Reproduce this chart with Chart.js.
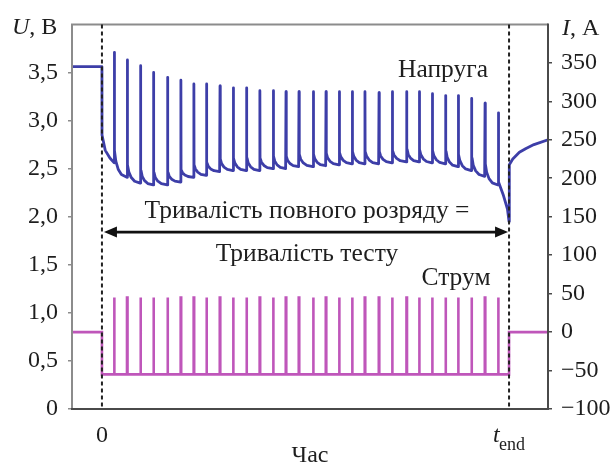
<!DOCTYPE html>
<html>
<head>
<meta charset="utf-8">
<script src="https://cdn.jsdelivr.net/npm/chart.js@4"></script>
<style>
  html, body { margin: 0; padding: 0; background: #fff; }
  #wrap { width: 614px; height: 466px; position: relative; }
</style>
</head>
<body>
<div id="wrap"><canvas id="c"></canvas></div>
<script>
// ---- data (time in arbitrary units: 0 = test start, T_END = end of test) ----
const T_MIN = -2.26, T_MAX = 33.66, T_END = 30.72;
const spikeTimes = [0.93, 1.91, 2.92, 3.90, 4.96, 5.96, 6.94, 7.90, 8.91, 9.91,
                    10.92, 11.92, 12.93, 13.89, 14.87, 15.95, 16.91, 17.91, 18.89, 19.85,
                    20.91, 21.91, 23.00, 23.95, 24.93, 25.94, 26.89, 27.90, 28.91, 29.91];
const uPeak   = [3.71, 3.63, 3.57, 3.50, 3.45, 3.42, 3.38, 3.38, 3.36, 3.34,
                 3.34, 3.31, 3.31, 3.30, 3.30, 3.30, 3.30, 3.30, 3.30, 3.30,
                 3.29, 3.30, 3.30, 3.30, 3.28, 3.26, 3.26, 3.23, 3.18, 3.08];
const uTrough = [2.56, 2.41, 2.35, 2.33, 2.33, 2.36, 2.41, 2.43, 2.47, 2.48,
                 2.48, 2.48, 2.50, 2.50, 2.52, 2.52, 2.53, 2.54, 2.55, 2.55,
                 2.55, 2.56, 2.57, 2.57, 2.56, 2.55, 2.52, 2.48, 2.42, 2.33];
const uRest = 3.56, uAfterStart = 2.85;
const tFinal = [29.95, 30.30, 30.60, 30.72];
const uFinal = [2.36, 2.22, 2.08, 1.95];
const tRecovery = [30.74, 31.0, 31.5, 32.0, 32.6, 33.66];
const uRecovery = [2.54, 2.60, 2.67, 2.71, 2.75, 2.80];
const iRest = 0, iDischarge = -55, iPulse = 45;
const uTicks = [0, 0.5, 1.0, 1.5, 2.0, 2.5, 3.0, 3.5];
const iTicks = [-100, -50, 0, 50, 100, 150, 200, 250, 300, 350];

// relaxation shape after each pulse (fraction of interval, fraction of overshoot)
const relaxFrac  = [0.03, 0.12, 0.30, 0.55, 0.97];
const relaxLevel = [1.0, 0.6, 0.3, 0.1, 0.0];
const overshoot = 0.13;

// ---- build series ----
const uPts = [{x: T_MIN, y: uRest}, {x: 0, y: uRest}, {x: 0.005, y: uAfterStart},
              {x: 0.25, y: 2.69}, {x: 0.6, y: 2.61}];
for (let k = 0; k < spikeTimes.length; k++) {
  const t = spikeTimes[k];
  uPts.push({x: t - 0.005, y: uTrough[k]});
  uPts.push({x: t, y: uPeak[k]});
  uPts.push({x: t + 0.01, y: uTrough[k] + overshoot});
  if (k < spikeTimes.length - 1) {
    const L = spikeTimes[k + 1] - t;
    const P = uTrough[k] + overshoot, T = uTrough[k + 1];
    for (let j = 0; j < relaxFrac.length; j++) {
      uPts.push({x: t + relaxFrac[j] * L, y: T + (P - T) * relaxLevel[j]});
    }
  }
}
for (let j = 0; j < tFinal.length; j++) uPts.push({x: tFinal[j], y: uFinal[j]});
for (let j = 0; j < tRecovery.length; j++) uPts.push({x: tRecovery[j], y: uRecovery[j]});

const iPts = [{x: T_MIN, y: iRest}, {x: 0, y: iRest}, {x: 0, y: iDischarge}];
const pw = 0.02;
for (const t of spikeTimes) {
  iPts.push({x: t - pw, y: iDischarge}, {x: t - pw, y: iPulse},
            {x: t + pw, y: iPulse}, {x: t + pw, y: iDischarge});
}
iPts.push({x: T_END, y: iDischarge}, {x: T_END, y: iRest}, {x: T_MAX, y: iRest});

const FONT = "'Liberation Serif', 'DejaVu Serif', serif";
const TXT = '#1e1e1e';

const overlay = {
  id: 'overlay',
  afterDraw(chart) {
    const {ctx, chartArea: a, scales} = chart;
    const xs = scales.x, yu = scales.yU;
    ctx.save();
    // frame
    ctx.lineCap = 'butt';
    ctx.lineWidth = 2;
    ctx.strokeStyle = '#8c8c8c';
    ctx.beginPath(); ctx.moveTo(a.left, a.bottom); ctx.lineTo(a.left, a.top);
    ctx.lineTo(a.right, a.top); ctx.stroke();
    ctx.strokeStyle = '#4a4a4a';
    ctx.beginPath(); ctx.moveTo(a.left - 1, a.bottom); ctx.lineTo(a.right, a.bottom);
    ctx.lineTo(a.right, a.top - 1); ctx.stroke();

    // dashed markers
    ctx.strokeStyle = '#222';
    ctx.lineWidth = 2;
    ctx.setLineDash([4, 3]);
    for (const t of [0, T_END]) {
      const px = xs.getPixelForValue(t);
      ctx.beginPath(); ctx.moveTo(px, a.top); ctx.lineTo(px, a.bottom); ctx.stroke();
    }
    ctx.setLineDash([]);

    // double arrow
    const x0 = xs.getPixelForValue(0) + 2, x1 = xs.getPixelForValue(T_END) - 1;
    const ya = yu.getPixelForValue(1.84);
    ctx.strokeStyle = '#111'; ctx.fillStyle = '#111'; ctx.lineWidth = 2.8;
    ctx.beginPath(); ctx.moveTo(x0 + 8, ya); ctx.lineTo(x1 - 8, ya); ctx.stroke();
    ctx.beginPath(); ctx.moveTo(x0, ya); ctx.lineTo(x0 + 13, ya - 5.5); ctx.lineTo(x0 + 13, ya + 5.5); ctx.closePath(); ctx.fill();
    ctx.beginPath(); ctx.moveTo(x1, ya); ctx.lineTo(x1 - 13, ya - 5.5); ctx.lineTo(x1 - 13, ya + 5.5); ctx.closePath(); ctx.fill();

    // texts
    ctx.fillStyle = TXT;
    ctx.textBaseline = 'alphabetic';
    ctx.font = `25.5px ${FONT}`;
    ctx.textAlign = 'center';
    ctx.fillText('Тривалість повного розряду =', 307, 218);
    ctx.fillText('Тривалість тесту', 307, 261);
    ctx.fillText('Напруга', 443, 77);
    ctx.fillText('Струм', 456, 285);
    ctx.font = `24px ${FONT}`;
    ctx.fillText('Час', 310, 462);
    ctx.fillText('0', xs.getPixelForValue(0), 442);

    // t_end
    const te = xs.getPixelForValue(T_END);
    ctx.textAlign = 'left';
    ctx.font = `italic 24px ${FONT}`;
    ctx.fillText('t', te - 16, 442);
    ctx.font = `18px ${FONT}`;
    ctx.fillText('end', te - 10, 450);

    // axis titles
    ctx.font = `italic 24px ${FONT}`;
    ctx.fillText('U', 12, 34);
    let w = ctx.measureText('U').width;
    ctx.font = `24px ${FONT}`;
    ctx.fillText(', В', 12 + w, 34);

    ctx.font = `italic 24px ${FONT}`;
    ctx.fillText('I', 562, 35);
    w = ctx.measureText('I').width;
    ctx.font = `24px ${FONT}`;
    ctx.fillText(', А', 562 + w, 35);
    ctx.restore();
  }
};

new Chart(document.getElementById('c'), {
  type: 'line',
  data: {
    datasets: [
      {label: 'U', data: uPts, yAxisID: 'yU', borderColor: '#3d3ea8', borderWidth: 2.8,
       pointRadius: 0, tension: 0, borderJoinStyle: 'round'},
      {label: 'I', data: iPts, yAxisID: 'yI', borderColor: '#bf56ba', borderWidth: 2.6,
       pointRadius: 0, tension: 0}
    ]
  },
  options: {
    animation: false,
    responsive: true,
    maintainAspectRatio: false,
    layout: {padding: {top: 24, left: 0, right: 0, bottom: 0}},
    plugins: {legend: {display: false}, tooltip: {enabled: false}, title: {display: false}},
    scales: {
      x: {
        type: 'linear', min: T_MIN, max: T_MAX,
        ticks: {display: false},
        grid: {display: false},
        border: {display: false},
        afterFit(s) { s.height = 57; }
      },
      yU: {
        position: 'left', min: 0, max: 4,
        afterBuildTicks(s) { s.ticks = uTicks.map(v => ({value: v})); },
        ticks: {
          font: {family: FONT, size: 24}, color: TXT, padding: 10,
          callback: v => v === 0 ? '0' : Number(v).toFixed(1).replace('.', ',')
        },
        grid: {drawOnChartArea: false, drawTicks: true, tickLength: 4, color: '#8c8c8c', lineWidth: 1.5},
        border: {display: false},
        afterFit(s) { s.width = 72; }
      },
      yI: {
        position: 'right', min: -100, max: 400,
        afterBuildTicks(s) { s.ticks = iTicks.map(v => ({value: v})); },
        ticks: {
          font: {family: FONT, size: 24}, color: TXT, padding: 9,
          callback: v => v < 0 ? '\u2212' + Math.abs(v) : String(v)
        },
        grid: {drawOnChartArea: false, drawTicks: true, tickLength: 4, color: '#4a4a4a', lineWidth: 1.5},
        border: {display: false},
        afterFit(s) { s.width = 66; }
      }
    }
  },
  plugins: [overlay]
});
</script>
</body>
</html>
